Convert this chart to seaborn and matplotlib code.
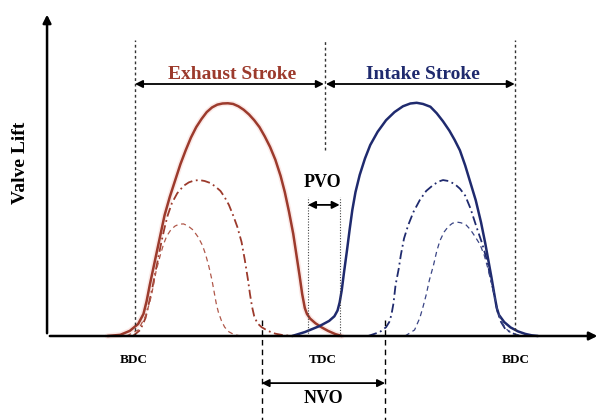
import numpy as np
import pandas as pd
import seaborn as sns
import matplotlib.pyplot as plt

sns.set_style("white")
plt.rcParams['font.family'] = ['Liberation Serif', 'DejaVu Serif']
plt.rcParams['font.weight'] = 'bold'
plt.rcParams['text.color'] = 'black'

# valve lift curves (crank angle deg, lift)
exh_full_ca = [154, 166, 175, 183, 188, 191, 194, 201, 208, 213, 218, 223, 228, 233, 238,
               243, 248, 253, 258, 263, 268, 273, 278, 283, 288, 293, 298, 303, 308, 313,
               318, 322, 326, 330, 333, 336, 338.5, 341, 343, 346, 351, 357, 363, 370, 376]
exh_full_lift = [0, 0.05, 0.22, 0.52, 0.95, 1.5, 2.2, 3.7, 5.2, 6.0, 6.7, 7.4, 8.0, 8.55, 9.0,
                 9.35, 9.65, 9.85, 9.97, 10.02, 10.03, 10.0, 9.9, 9.75, 9.55, 9.3, 9.0, 8.6,
                 8.15, 7.6, 6.9, 6.2, 5.35, 4.4, 3.5, 2.6, 1.8, 1.2, 0.95, 0.75, 0.55, 0.37,
                 0.22, 0.08, 0]
exh_mid_ca = [178, 185, 190, 196, 202, 205, 208, 211, 215, 220, 226, 231, 236, 241, 246,
              251, 256, 261, 265, 269, 273, 277, 281, 284, 287, 289, 291, 293, 296, 300,
              306, 313, 320, 329]
exh_mid_lift = [0, 0.26, 0.78, 1.98, 3.36, 4.05, 4.66, 5.2, 5.73, 6.15, 6.47, 6.62, 6.7, 6.72,
                6.68, 6.6, 6.45, 6.25, 5.98, 5.65, 5.2, 4.7, 4.05, 3.3, 2.45, 1.8, 1.25, 0.85,
                0.55, 0.38, 0.22, 0.1, 0.04, 0]
exh_low_ca = [172, 183, 190, 194, 197, 200, 204, 207, 210, 214, 218, 222, 226, 230, 235,
              240, 244, 247, 250, 253, 255, 257, 259, 262, 265, 269, 274, 280]
exh_low_lift = [0, 0.26, 0.86, 1.45, 2.07, 2.8, 3.49, 3.95, 4.3, 4.58, 4.74, 4.82, 4.83, 4.75,
                4.57, 4.25, 3.9, 3.5, 3.0, 2.4, 1.9, 1.4, 1.03, 0.65, 0.38, 0.18, 0.06, 0]

int_full_ca = [329, 341, 355, 364, 369, 372, 374, 376, 378, 381, 383.5, 386, 389, 393, 398,
               403, 410, 418, 426, 434, 441, 447, 453, 460, 466, 472, 478, 483, 488, 493,
               498, 503, 508, 512, 515, 518, 521, 523, 525, 530, 536, 543, 550, 556, 562]
int_full_lift = [0, 0.17, 0.43, 0.65, 0.85, 1.1, 1.45, 1.98, 2.7, 3.71, 4.6, 5.43, 6.2, 6.94,
                 7.65, 8.23, 8.8, 9.3, 9.65, 9.9, 10.02, 10.05, 10.0, 9.88, 9.6, 9.25, 8.85,
                 8.45, 8.0, 7.35, 6.6, 5.85, 4.9, 4.0, 3.25, 2.5, 1.7, 1.2, 0.91, 0.6, 0.37,
                 0.2, 0.09, 0.03, 0]
int_mid_ca = [401, 412, 418, 421, 423, 425, 427, 430, 432, 435, 439, 444, 450, 456, 463,
              468, 472, 477, 483, 488, 493, 498, 504, 509, 514, 517, 520, 522, 524, 527,
              531, 537, 545]
int_mid_lift = [0, 0.17, 0.38, 0.6, 0.9, 1.4, 2.2, 2.9, 3.49, 4.2, 4.78, 5.35, 5.86, 6.25,
                6.52, 6.66, 6.72, 6.68, 6.55, 6.35, 6.05, 5.5, 4.66, 4.0, 3.2, 2.5, 1.9, 1.4,
                0.99, 0.6, 0.3, 0.13, 0]
int_low_ca = [436, 445, 450, 453, 456, 459, 463, 466, 469, 473, 477, 481, 485, 489, 494,
              498, 502, 507, 511, 514, 517, 520, 522, 524, 526, 529, 532, 536, 540, 547]
int_low_lift = [0, 0.26, 0.78, 1.25, 1.77, 2.4, 3.06, 3.65, 4.1, 4.48, 4.72, 4.86, 4.91, 4.88,
                4.78, 4.58, 4.31, 3.95, 3.49, 3.0, 2.45, 1.9, 1.42, 1.05, 0.78, 0.5, 0.3,
                0.15, 0.07, 0]

# events
bdc1, tdc, bdc2 = 180, 360, 540
pvo_start, pvo_end = 344, 374
nvo_start, nvo_end = 300, 417
event_labels = ["BDC", "TDC", "BDC"]

red = "#9C3A2C"
navy = "#1F2A6E"

fig = plt.figure(figsize=(6.02, 4.2), dpi=100)
ax = fig.add_axes([0, 0, 1, 1])
ax.set_xlim(52, 622.7)
ax.set_ylim(-3.62, 14.48)
ax.axis('off')

# soft halo under the exhaust trace, as in the scanned original
sns.lineplot(x=exh_full_ca, y=exh_full_lift, ax=ax, color="#F2B8B0", lw=4,
             alpha=0.3, sort=False, estimator=None)

curves = [
    (exh_full_ca, exh_full_lift, red, '-', 1.8),
    (exh_mid_ca, exh_mid_lift, red, (0, (5, 2, 1, 2)), 1.3),
    (exh_low_ca, exh_low_lift, "#B0584A", (0, (4, 3)), 0.9),
    (int_full_ca, int_full_lift, navy, '-', 1.8),
    (int_mid_ca, int_mid_lift, navy, (0, (5, 2, 1, 2)), 1.3),
    (int_low_ca, int_low_lift, "#3A4585", (0, (4, 3)), 0.9),
]
for xs, ys, c, ls, lw in curves:
    df = pd.DataFrame({"ca": xs, "lift": ys})
    sns.lineplot(data=df, x="ca", y="lift", ax=ax, color=c, lw=lw, sort=False,
                 linestyle=ls, estimator=None)

# coordinate axes with arrow heads
x0 = 96.6
ax.annotate("", xy=(621, 0), xytext=(x0, 0),
            arrowprops=dict(arrowstyle='-|>', color='black', lw=1.8, mutation_scale=12))
ax.annotate("", xy=(x0, 13.97), xytext=(x0, 0),
            arrowprops=dict(arrowstyle='-|>', color='black', lw=1.8, mutation_scale=12))
ax.text(71, 7.46, "Valve Lift", rotation=90, ha='center', va='center', fontsize=14)

# dead centre guides
ax.plot([bdc1, bdc1], [0, 12.76], ls=(0, (2, 2)), color='#333333', lw=1)
ax.plot([bdc2, bdc2], [0, 12.76], ls=(0, (2, 2)), color='#333333', lw=1)
ax.plot([tdc, tdc], [8.02, 12.76], ls=(0, (2, 2)), color='#333333', lw=1)
for xv, lab in zip([bdc1 - 1, tdc - 2, bdc2 + 1], event_labels):
    ax.text(xv, -1.03, lab, ha='center', va='center', fontsize=9.5)

# stroke arrows
arrow = dict(arrowstyle='<|-|>', color='black', lw=1.3, mutation_scale=11, shrinkA=0, shrinkB=0)
ax.annotate("", xy=(bdc1, 10.86), xytext=(tdc - 1, 10.86), arrowprops=arrow)
ax.annotate("", xy=(tdc + 1, 10.86), xytext=(bdc2, 10.86), arrowprops=arrow)
ax.text((bdc1 + tdc) / 2 + 2, 11.25, "Exhaust Stroke", ha='center', va='center',
        fontsize=14, color=red)
ax.text((tdc + bdc2) / 2 + 3, 11.25, "Intake Stroke", ha='center', va='center',
        fontsize=14, color=navy)

# PVO
for xv in [pvo_start, pvo_end]:
    ax.plot([xv, xv], [0, 6.0], ls=(0, (1, 1.5)), color='#444444', lw=0.8)
ax.annotate("", xy=(pvo_start, 5.65), xytext=(pvo_end, 5.65), arrowprops=arrow)
ax.text((pvo_start + pvo_end) / 2 - 1, 6.6, "PVO", ha='center', va='center', fontsize=13)

# NVO
for xv in [nvo_start, nvo_end]:
    ax.plot([xv, xv], [0.69, -3.62], ls=(0, (4, 3)), color='black', lw=1)
ax.annotate("", xy=(nvo_start, -2.03), xytext=(nvo_end, -2.03), arrowprops=arrow)
ax.text((nvo_start + nvo_end) / 2, -2.7, "NVO", ha='center', va='center', fontsize=13)

fig.savefig("out.png", dpi=100)
